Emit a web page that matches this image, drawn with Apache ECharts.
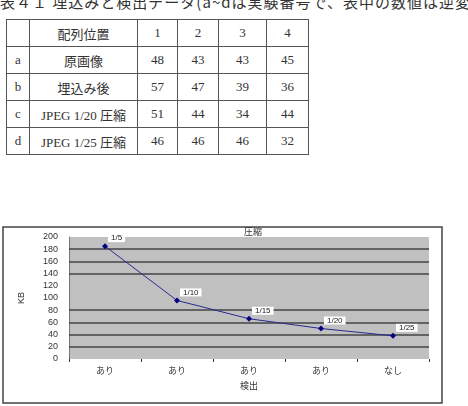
<!DOCTYPE html>
<html><head><meta charset="utf-8">
<script src="https://cdn.jsdelivr.net/npm/echarts@6/dist/echarts.min.js"></script>
<style>
html,body{margin:0;padding:0;background:#fff;width:468px;height:406px;overflow:hidden;position:relative;}
#cap{position:absolute;left:0;top:-7px;font:15px/17px "Noto Sans CJK JP",sans-serif;color:#333;white-space:nowrap;letter-spacing:1px;}
#tbl{position:absolute;left:6px;top:19px;border-collapse:collapse;font:13px "Liberation Serif","DejaVu Serif","Noto Sans CJK JP",serif;color:#333;}
#tbl td{border:1.3px solid #555;text-align:center;height:26px;padding:0;}
#chart{position:absolute;left:0;top:0;width:468px;height:406px;}
</style></head>
<body>
<div id="cap"></div>
<table id="tbl"></table>
<div id="chart"></div>
<script>
// ---- data ----
const captionText = '表４１ 埋込みと検出データ(a~dは実験番号で、表中の数値は逆変';
const tableHeader = ['', '配列位置', '1', '2', '3', '4'];
const rowIds = ['a', 'b', 'c', 'd'];
const rowNames = ['原画像', '埋込み後', 'JPEG 1/20 圧縮', 'JPEG 1/25 圧縮'];
const rowValues = [[48, 43, 43, 45], [57, 47, 39, 36], [51, 44, 34, 44], [46, 46, 46, 32]];

const chartTitle = '圧縮';
const categories = ['あり', 'あり', 'あり', 'あり', 'なし'];
const sizesKB = [185, 96, 66, 50, 38];
const ratioLabels = ['1/5', '1/10', '1/15', '1/20', '1/25'];
const gridLineValues = [20, 40, 60, 80, 140, 160, 180];
const xName = '検出';
const yName = 'KB';

// ---- caption & table ----
document.getElementById('cap').textContent = captionText;
const colW = [22, 107, 39, 40, 47, 41];
const tbl = document.getElementById('tbl');
function addRow(cells) {
  const tr = document.createElement('tr');
  cells.forEach((c, i) => {
    const td = document.createElement('td');
    td.textContent = c;
    td.style.width = colW[i] + 'px';
    tr.appendChild(td);
  });
  tbl.appendChild(tr);
}
addRow(tableHeader);
rowIds.forEach((id, i) => addRow([id, rowNames[i]].concat(rowValues[i].map(String))));

// ---- chart ----
const chart = echarts.init(document.getElementById('chart'));
chart.setOption({
  backgroundColor: 'transparent',
  animation: false,
  graphic: [
    { type: 'rect', z: -10, shape: { x: 3, y: 227, width: 439, height: 176 },
      style: { fill: '#fff', stroke: '#444', lineWidth: 1.5 } },
    { type: 'text', x: 253, y: 227, z: 10,
      style: { text: chartTitle, fill: '#333', font: '9px "Noto Sans CJK JP"', textAlign: 'center' } }
  ],
  grid: { left: 69, top: 237, width: 360, height: 122, show: true,
          backgroundColor: '#c0c0c0', borderWidth: 0 },
  xAxis: {
    type: 'category', data: categories, boundaryGap: true,
    name: xName, nameLocation: 'middle', nameGap: 22,
    nameTextStyle: { fontSize: 9, color: '#333', fontFamily: 'Noto Sans CJK JP' },
    axisLine: { show: false },
    axisTick: { show: true, length: 3, lineStyle: { color: '#333' } },
    axisLabel: { fontSize: 9, color: '#333', margin: 7, fontFamily: 'Noto Sans CJK JP' }
  },
  yAxis: {
    type: 'value', min: 0, max: 200, interval: 20,
    name: yName, nameLocation: 'middle', nameGap: 43, nameRotate: 90,
    nameTextStyle: { fontSize: 9, color: '#333', fontFamily: 'Arial' },
    axisLine: { show: true, lineStyle: { color: '#777', width: 1 } },
    axisTick: { show: false },
    splitLine: { show: false },
    axisLabel: { fontSize: 9, color: '#333', margin: 11, fontFamily: 'Arial' }
  },
  series: [{
    type: 'line', data: sizesKB,
    symbol: 'diamond', symbolSize: 6,
    itemStyle: { color: '#000080' },
    lineStyle: { color: '#2a2a90', width: 1 },
    label: {
      show: true, position: 'right', distance: 0, offset: [0, -8],
      formatter: p => ratioLabels[p.dataIndex],
      backgroundColor: '#fff', padding: [0, 3, 0, 3],
      fontSize: 8, color: '#222', fontFamily: 'Arial'
    },
    markLine: {
      silent: true, symbol: 'none', label: { show: false }, z: 1,
      lineStyle: { color: '#444', width: 1.5, type: 'solid' },
      data: gridLineValues.map(v => ({ yAxis: v }))
    }
  }]
});
</script>
</body></html>
